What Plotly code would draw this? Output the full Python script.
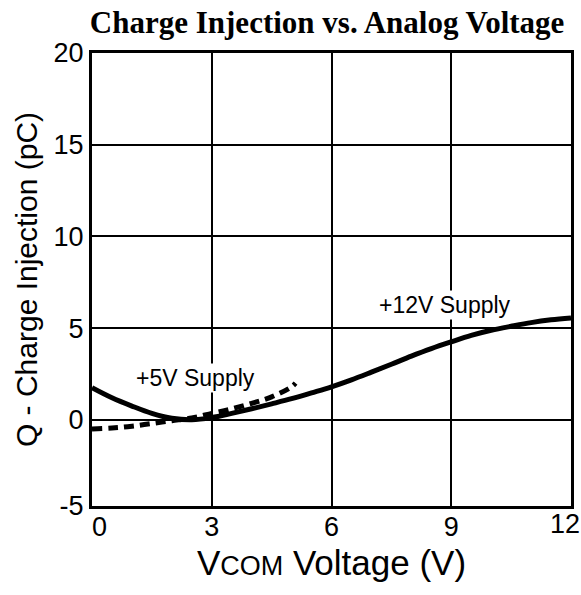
import plotly.graph_objects as go

# +12V supply (solid)
v12 = [0, 0.5, 1.0, 1.5, 2.0, 2.5, 3.0, 3.5, 4.0, 4.5, 5.0, 5.5, 6.0, 6.5, 7.0,
       7.5, 8.0, 8.5, 9.0, 9.5, 10.0, 10.5, 11.0, 11.5, 12.0]
q12 = [1.75, 1.2, 0.75, 0.35, 0.08, 0.0, 0.12, 0.35, 0.6, 0.87, 1.15, 1.47, 1.8,
       2.18, 2.6, 3.03, 3.47, 3.88, 4.25, 4.6, 4.88, 5.1, 5.3, 5.45, 5.55]

# +5V supply (dashed)
v5 = [0, 0.5, 1.0, 1.5, 2.0, 2.5, 3.0, 3.5, 4.0, 4.5, 5.0, 5.1]
q5 = [-0.5, -0.45, -0.35, -0.2, -0.05, 0.1, 0.35, 0.6, 0.9, 1.25, 1.8, 2.0]

x_ticks = [0, 3, 6, 9, 12]
x_ticktext = ["\u00a0\u00a00", "3", "6", "9", ""]
x_last_label = "12"
y_ticks = [-4.7, 0, 5, 10, 15, 20]
y_ticktext = ["-5", "0", "5", "10", "15", "20"]

fig = go.Figure()
fig.add_trace(go.Scatter(x=v12, y=q12, mode="lines", name="+12V Supply",
                         line=dict(color="black", width=5, shape="spline")))
fig.add_trace(go.Scatter(x=v5, y=q5, mode="lines", name="+5V Supply",
                         line=dict(color="black", width=5, dash="10px,6px", shape="spline")))

fig.add_annotation(x=2.59, y=2.3, text="+5V Supply", showarrow=False,
                   font=dict(family="Liberation Sans, Arial", size=23, color="black"),
                   bgcolor="white")
fig.add_annotation(x=8.84, y=6.27, text="+12V Supply", showarrow=False,
                   font=dict(family="Liberation Sans, Arial", size=23, color="black"),
                   bgcolor="white")
# last x tick label, nudged inside the page like the reference
fig.add_annotation(x=x_ticks[-1], y=0, xref="x", yref="paper", text=x_last_label,
                   showarrow=False, xanchor="center", yanchor="middle",
                   xshift=-6, yshift=-18,
                   font=dict(family="Liberation Sans, Arial", size=27, color="black"))

fig.update_layout(
    width=581, height=595,
    margin=dict(l=92, r=10, t=53, b=89),
    paper_bgcolor="white", plot_bgcolor="white",
    showlegend=False,
    title=dict(text="<b>Charge Injection vs. Analog Voltage</b>",
               font=dict(family="Liberation Serif, Times New Roman", size=31, color="black"),
               x=0.563, xanchor="center", y=0.963, yanchor="middle"),
    font=dict(family="Liberation Sans, Arial", color="black"),
)
fig.update_xaxes(range=[0, 12], tickvals=x_ticks, ticktext=x_ticktext,
                 showgrid=True, gridcolor="black", gridwidth=2,
                 showline=True, linecolor="black", linewidth=3, mirror=True,
                 zeroline=False, ticks="", tickfont=dict(size=27), automargin=False,
                 ticklabelstandoff=-5,
                 title=dict(text="\u00a0\u00a0V<span style='font-size:27px'>COM</span> Voltage (V)",
                            font=dict(size=35), standoff=10))
fig.update_yaxes(range=[-4.7, 20], tickvals=y_ticks, ticktext=y_ticktext,
                 showgrid=True, gridcolor="black", gridwidth=2,
                 showline=True, linecolor="black", linewidth=3, mirror=True,
                 zeroline=False, ticks="", tickfont=dict(size=27), automargin=False,
                 title=dict(text="Q - Charge Injection (pC)", font=dict(size=30), standoff=8))

fig.write_html("out.html", post_script="document.body.style.margin='0px';",
               config={"displayModeBar": False})
